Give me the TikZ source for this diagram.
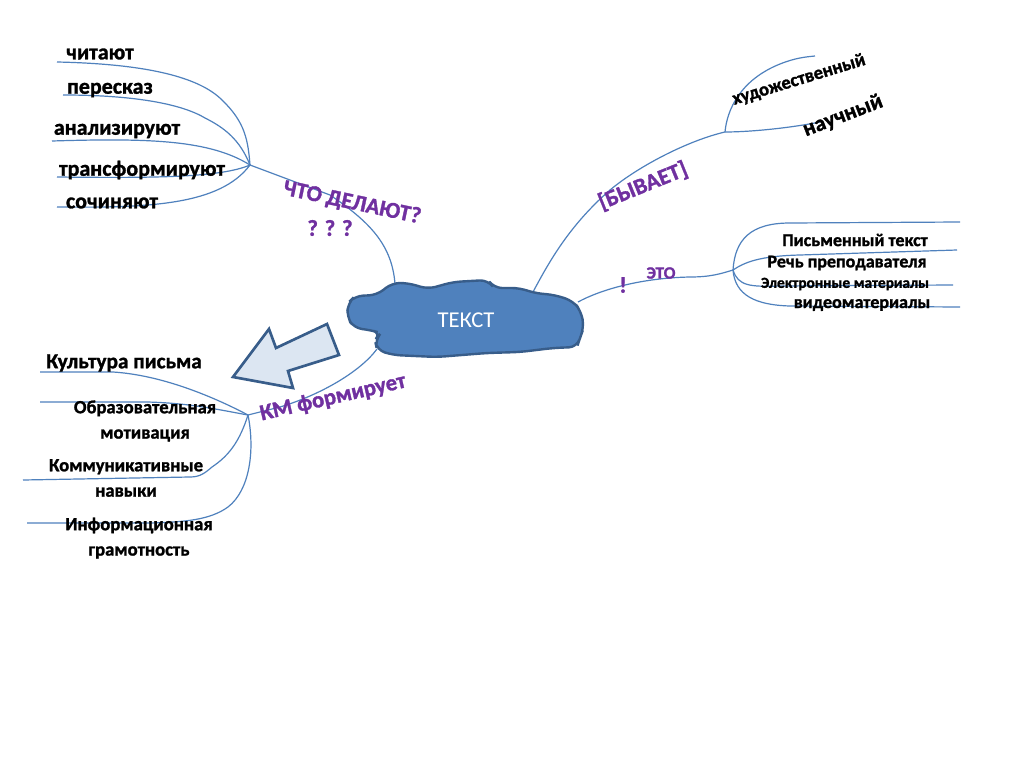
\documentclass[tikz,border=0pt]{standalone}
\usepackage{fontspec}
\setmainfont{Carlito}[BoldFont={Carlito Bold},BoldFeatures={FakeBold=1.3}]
\begin{document}
\begin{tikzpicture}[x=0.75pt,y=-0.75pt,
  br/.style={draw=brline,line width=0.9pt},
  lbl/.style={font=\bfseries\fontsize{16.5}{18}\selectfont,inner sep=0pt},
  lbls/.style={font=\bfseries\fontsize{13.5}{15}\selectfont,inner sep=0pt},
  lblm/.style={font=\bfseries\fontsize{14}{19}\selectfont,inner sep=0pt,align=center},
  pur/.style={text=purp,font=\bfseries\fontsize{17}{19}\selectfont,inner sep=0pt}]
\definecolor{brline}{HTML}{4F81BD}
\definecolor{purp}{HTML}{7030A0}
\definecolor{cloudfill}{HTML}{4F81BD}
\definecolor{cloudline}{HTML}{385D8A}
\definecolor{arrfill}{HTML}{DCE6F2}
\useasboundingbox (0,0) rectangle (1024,767);
\fill[white] (0,0) rectangle (1024,767);

% hubs and branch points
\coordinate (h1) at (250,165);
\coordinate (h2) at (725,132);
\coordinate (h3) at (733,270);
\coordinate (h4) at (248,415);
\coordinate (ct) at (395,284);
\coordinate (cr) at (533,292);
\coordinate (crr) at (578,302);
\coordinate (cbl) at (377,349);

% top-left branch
\draw[br] (ct) .. controls (392,245) and (370,222) .. (330,195) -- (h1);
\draw[br] (57,62) .. controls (150,64) and (200,78) .. (222,100) .. controls (245,122) and (248,140) .. (h1);
\draw[br] (63,95) .. controls (130,95) and (180,103) .. (205,118) .. controls (225,128) and (240,140) .. (h1);
\draw[br] (52,141) .. controls (150,138) and (210,140) .. (h1);
\draw[br] (57,177) .. controls (150,178) and (220,178) .. (h1);
\draw[br] (57,207) .. controls (150,208) and (220,205) .. (h1);

% right upper branch
\draw[br] (cr) .. controls (550,260) and (570,225) .. (610,190) .. controls (640,165) and (690,140) .. (h2);
\draw[br] (h2) .. controls (727,110) and (740,80) .. (780,64) .. controls (795,58) and (805,57) .. (815,56);
\draw[br] (h2) .. controls (750,132) and (790,128) .. (820,122);

% right lower branch
\draw[br] (crr) .. controls (600,290) and (640,278) .. (690,277) .. controls (710,277) and (720,274) .. (h3);
\draw[br] (h3) .. controls (735,240) and (750,223) .. (790,223) -- (960,222);
\draw[br] (h3) .. controls (745,262) and (760,256) .. (800,255) -- (957,250);
\draw[br] (h3) .. controls (738,286) and (750,287) .. (780,286) -- (953,285);
\draw[br] (h3) .. controls (735,295) and (755,305) .. (790,306) -- (960,307);

% lower left branch
\draw[br] (cbl) .. controls (360,372) and (320,395) .. (280,407) -- (h4);
\draw[br] (40,372) -- (113,372) .. controls (160,375) and (210,395) .. (h4);
\draw[br] (40,402) -- (147,402) .. controls (190,403) and (220,410) .. (h4);
\draw[br] (h4) .. controls (240,440) and (230,455) .. (212,467) .. controls (205,473) and (200,477) .. (190,477) -- (23,480);
\draw[br] (h4) .. controls (255,450) and (250,490) .. (228,507) .. controls (210,520) and (185,522) .. (150,523) -- (27,523);

% cloud
\draw[fill=cloudfill,draw=cloudline,line width=1.8pt,rounded corners=6pt]
 (348,303) -- (355,296) -- (377,295) -- (392,283) -- (408,283) -- (428,289) -- (453,282)
 -- (488,280) -- (494,288) -- (520,288) -- (534,293) -- (555,295) -- (573,301) -- (581,311)
 -- (584,327) -- (580,338) -- (577,347) -- (553,348) -- (520,352) -- (487,353) -- (437,357)
 -- (393,355) -- (377,350) -- (375,340) -- (381,333) -- (370,330) -- (354,328) -- (347,317) -- cycle;
\node[text=white,font=\fontsize{17}{19}\selectfont] (tekst) at (466,320) {ТЕКСТ};

% block arrow
\draw[fill=arrfill,draw=cloudline,line width=2pt,line join=miter]
 (233,377) -- (269,329) -- (276,348) -- (327,324) -- (339,355) -- (288,371) -- (293,388) -- cycle;

% labels
\node[lbl] (l1) at (100,54) {читают};
\node[lbl] (l2) at (110,90) {пересказ};
\node[lbl] (l3) at (117,131) {анализируют};
\node[lbl] (l4) at (142,170) {трансформируют};
\node[lbl] (l5) at (112,203) {сочиняют};
\node[pur,rotate=-12] (q1) at (352,203) {ЧТО ДЕЛАЮТ?};
\node[pur] (q2) at (330,228) {? ? ?};

\node[pur,rotate=22] (b1) at (643,186) {[БЫВАЕТ]};
\node[lbls,rotate=17,font=\bfseries\fontsize{14}{16}\selectfont] (r1) at (799,80) {художественный};
\node[lbl,rotate=21] (r2) at (843,116) {научный};

\node[pur] (ex) at (623,285) {!};
\node[pur,font=\bfseries\fontsize{13}{15}\selectfont] (eto) at (661,273) {ЭТО};
\node[lbls] (e1) at (855,240) {Письменный текст};
\node[lbls] (e2) at (847,263) {Речь преподавателя};
\node[lbls,font=\bfseries\fontsize{11.5}{13}\selectfont] (e3) at (845,284) {Электронные материалы};
\node[lbls] (e4) at (862,305) {видеоматериалы};

\node[pur,rotate=13] (km) at (333,398) {КМ формирует};
\node[lbl,font=\bfseries\fontsize{16}{18}\selectfont] (k1) at (124,363) {Культура письма};
\node[lblm] (k2) at (145,421) {Образовательная\\мотивация};
\node[lblm] (k3) at (126,478) {Коммуникативные\\навыки};
\node[lblm] (k4) at (139,538) {Информационная\\грамотность};
\end{tikzpicture}
\end{document}
